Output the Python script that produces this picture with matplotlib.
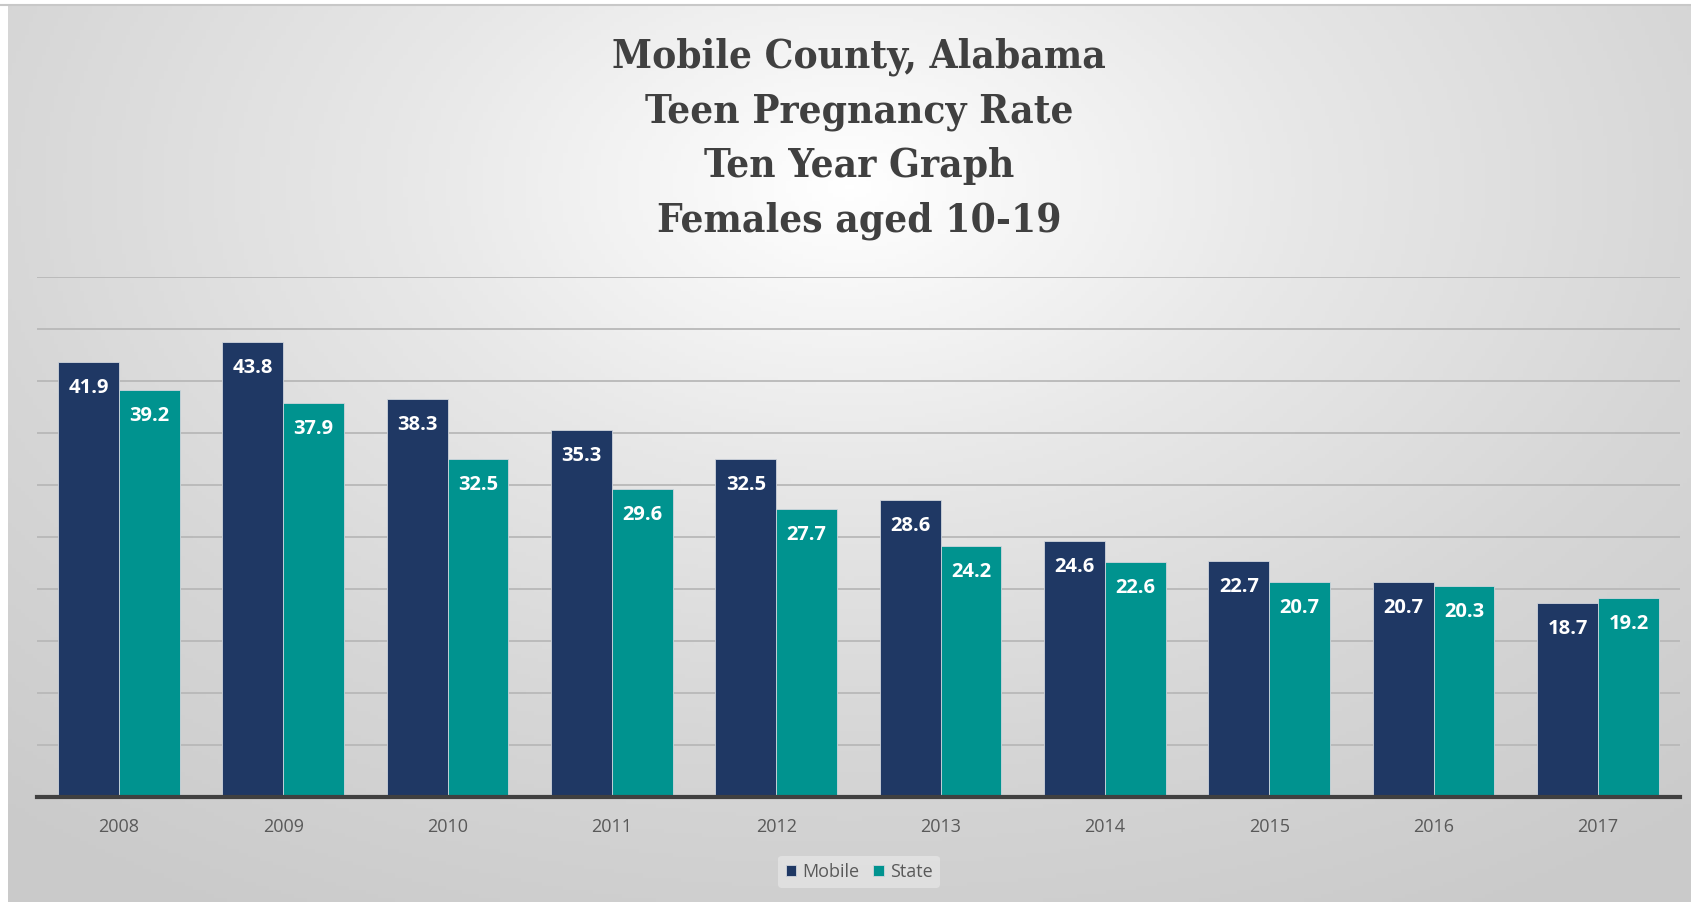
import numpy as np
import matplotlib
matplotlib.use('Agg')
import matplotlib.pyplot as plt
from matplotlib.colors import LinearSegmentedColormap

# chart data
years = ['2008', '2009', '2010', '2011', '2012', '2013', '2014', '2015', '2016', '2017']
mobile = [41.9, 43.8, 38.3, 35.3, 32.5, 28.6, 24.6, 22.7, 20.7, 18.7]
state = [39.2, 37.9, 32.5, 29.6, 27.7, 24.2, 22.6, 20.7, 20.3, 19.2]
title_lines = ['Mobile County, Alabama', 'Teen Pregnancy Rate', 'Ten Year Graph', 'Females aged 10-19']

navy = '#1f3864'
teal = '#00938f'

fig = plt.figure(figsize=(16.91, 9.02), dpi=100)
fig.patch.set_facecolor('white')

# radial grey background like the office chart area
bg = fig.add_axes([0.005, 0, 0.995, 0.993])
gx, gy = np.meshgrid(np.linspace(0, 1, 400), np.linspace(0, 1, 220))
r = np.sqrt(((gx - 0.5) / 0.75) ** 2 + ((gy - 0.2) / 0.9) ** 2)
cmap = LinearSegmentedColormap.from_list('bg', ['#ffffff', '#e8e8e8', '#d6d6d6', '#cacaca'])
bg.imshow(r, cmap=cmap, aspect='auto', extent=[0, 1, 1, 0], vmin=0, vmax=1.05)
bg.set_axis_off()
fig.add_artist(plt.Line2D([0, 1], [0.994, 0.994], color='#c8c8c8', lw=1.5, transform=fig.transFigure))

ax = fig.add_axes([0.0217, 0.116, 0.9719, 0.5766])
ax.patch.set_alpha(0)
x = np.arange(len(years))
w = 0.37
b1 = ax.bar(x - w / 2, mobile, w, color=navy, edgecolor='#d0d5dc', linewidth=0.6, label='Mobile', zorder=3)
b2 = ax.bar(x + w / 2, state, w, color=teal, edgecolor='#d0d5dc', linewidth=0.6, label='State', zorder=3)

for bars, vals in [(b1, mobile), (b2, state)]:
    for rect, v in zip(bars, vals):
        ax.text(rect.get_x() + rect.get_width() / 2, v - 2.5, f'{v:.1f}', ha='center', va='center',
                color='white', fontsize=14.5, fontweight='bold', family='Open Sans', zorder=4)

ax.set_xlim(-0.5, len(years) - 0.5)
ax.set_ylim(0, 50)
ax.set_yticks(np.arange(5, 51, 5))
ax.yaxis.grid(True, color='#b8b8b8', linewidth=1.3, zorder=0)
ax.tick_params(axis='y', left=False, labelleft=False)
ax.tick_params(axis='x', bottom=False, pad=11, labelsize=13, labelcolor='#595959')
ax.set_xticks(x)
ax.set_xticklabels(years, family='Open Sans')
for s in ['top', 'right', 'left']:
    ax.spines[s].set_visible(False)
ax.spines['bottom'].set_color('#404040')
ax.spines['bottom'].set_linewidth(3)
ax.spines['bottom'].set_zorder(5)

leg = fig.legend(handles=[b1, b2], labels=['Mobile', 'State'], loc='center', bbox_to_anchor=(0.508, 0.0335),
                 ncol=2, frameon=True, handlelength=0.6, handleheight=0.6, handletextpad=0.3,
                 columnspacing=0.8, prop={'family': 'Open Sans', 'size': 13})
leg.get_frame().set_facecolor('#e4e4e4')
leg.get_frame().set_edgecolor('none')
leg.get_frame().set_alpha(0.8)
for t in leg.get_texts():
    t.set_color('#595959')

fig.text(0.508, 0.846, '\n'.join(title_lines), ha='center', va='center', fontsize=29,
         fontweight='bold', family='DejaVu Serif', fontstretch='condensed', color='#404040', linespacing=1.55)

fig.savefig('out.png', dpi=100, facecolor=fig.get_facecolor())
